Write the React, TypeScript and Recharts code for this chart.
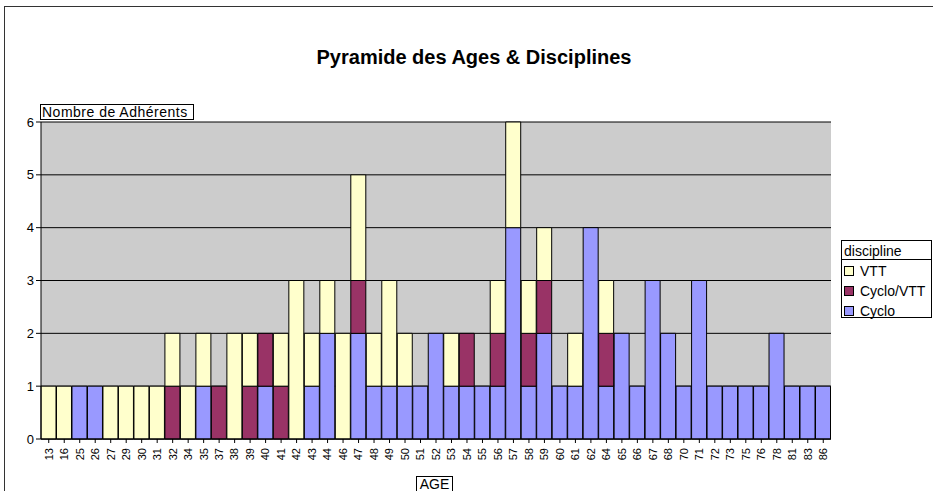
import { BarChart, Bar, XAxis, YAxis, CartesianGrid } from "recharts";

const ages = [13, 16, 25, 26, 27, 29, 30, 31, 32, 34, 35, 37, 38, 39, 40, 41, 42, 43, 44, 46, 47, 48, 49, 50, 51, 52, 53, 54, 55, 56, 57, 58, 59, 60, 61, 62, 64, 65, 66, 67, 68, 70, 71, 72, 73, 75, 76, 78, 81, 83, 86];
const cyclo = [0, 0, 1, 1, 0, 0, 0, 0, 0, 0, 1, 0, 0, 0, 1, 0, 0, 1, 2, 0, 2, 1, 1, 1, 1, 2, 1, 1, 1, 1, 4, 1, 2, 1, 1, 4, 1, 2, 1, 3, 2, 1, 3, 1, 1, 1, 1, 2, 1, 1, 1];
const cycloVtt = [0, 0, 0, 0, 0, 0, 0, 0, 1, 0, 0, 1, 0, 1, 1, 1, 0, 0, 0, 0, 1, 0, 0, 0, 0, 0, 0, 1, 0, 1, 0, 1, 1, 0, 0, 0, 1, 0, 0, 0, 0, 0, 0, 0, 0, 0, 0, 0, 0, 0, 0];
const vtt = [1, 1, 0, 0, 1, 1, 1, 1, 1, 1, 1, 0, 2, 1, 0, 1, 3, 1, 1, 2, 2, 1, 2, 1, 0, 0, 1, 0, 0, 1, 2, 1, 1, 0, 1, 0, 1, 0, 0, 0, 0, 0, 0, 0, 0, 0, 0, 0, 0, 0, 0];
const yTicks = [0, 1, 2, 3, 4, 5, 6];

// ordre d'empilement : du bas vers le haut
const series = [
  { key: "Cyclo", color: "#9999FF" },
  { key: "Cyclo/VTT", color: "#993366" },
  { key: "VTT", color: "#FFFFCC" },
];

const data = ages.map((age, i) => ({ age, Cyclo: cyclo[i], "Cyclo/VTT": cycloVtt[i], VTT: vtt[i] }));

const FONT = "'Liberation Sans', Arial, sans-serif";

const AgeTick = ({ x, y, payload }: any) => (
  <g transform={`translate(${x},${y + 3})`}>
    <text transform="rotate(-90)" textAnchor="end" dy="0.35em" fontSize={11} fill="#000" fontFamily={FONT}>
      {payload.value}
    </text>
  </g>
);

const boxLabel: React.CSSProperties = {
  position: "absolute",
  border: "1px solid #000",
  background: "#fff",
  whiteSpace: "nowrap",
};

export default function App() {
  return (
    <div style={{ position: "absolute", left: 0, top: 0, width: 933, height: 491, overflow: "hidden", fontFamily: FONT, background: "#fff" }}>
      <div style={{ position: "absolute", left: 4, top: 6, width: 960, height: 520, border: "1px solid #333" }} />
      <div style={{ position: "absolute", left: 0, width: 948, top: 46, textAlign: "center", fontWeight: "bold", fontSize: 20 }}>
        Pyramide des Ages &amp; Disciplines
      </div>
      <BarChart
        width={933}
        height={491}
        data={data}
        margin={{ top: 122, right: 102, left: 0, bottom: 0 }}
        barCategoryGap={0}
        barGap={0}
        style={{ position: "absolute", left: 0, top: 0 }}
      >
        <CartesianGrid vertical={false} stroke="#000" fill="#CCCCCC" fillOpacity={1} />
        <XAxis
          dataKey="age"
          interval={0}
          tick={<AgeTick />}
          tickSize={4}
          tickLine={{ stroke: "#000" }}
          axisLine={{ stroke: "#000" }}
          height={52}
        />
        <YAxis
          domain={[0, 6]}
          ticks={yTicks}
          width={41}
          tickSize={5}
          tickLine={{ stroke: "#000" }}
          axisLine={{ stroke: "#000" }}
          tick={{ fontSize: 13, fill: "#000", fontFamily: FONT }}
        />
        <YAxis yAxisId="r" orientation="right" domain={[0, 6]} width={0} tick={false} tickLine={false} axisLine={{ stroke: "#808080" }} />
        {series.map((s) => (
          <Bar key={s.key} dataKey={s.key} stackId="a" fill={s.color} stroke="#000" strokeWidth={1} isAnimationActive={false} />
        ))}
      </BarChart>
      <div style={{ ...boxLabel, left: 40, top: 104, width: 151, height: 14, fontSize: 14, lineHeight: "14px", letterSpacing: 0.5, paddingLeft: 1 }}>
        Nombre de Adhérents
      </div>
      <div style={{ ...boxLabel, left: 416, top: 476, width: 35, height: 16, fontSize: 14, lineHeight: "15px", textAlign: "center" }}>AGE</div>
      <div style={{ position: "absolute", left: 841, top: 240, width: 89, height: 76, border: "1px solid #000", background: "#fff", fontSize: 14 }}>
        <div style={{ borderBottom: "1px solid #000", padding: "0 2px", height: 18, lineHeight: "20px" }}>discipline</div>
        {[...series].reverse().map((s) => (
          <div key={s.key} style={{ display: "flex", alignItems: "center", height: 18, paddingLeft: 2, paddingTop: 2 }}>
            <span style={{ width: 8, height: 8, background: s.color, border: "1px solid #000", marginRight: 6, display: "inline-block" }} />
            <span style={{ lineHeight: "16px" }}>{s.key}</span>
          </div>
        ))}
      </div>
    </div>
  );
}
